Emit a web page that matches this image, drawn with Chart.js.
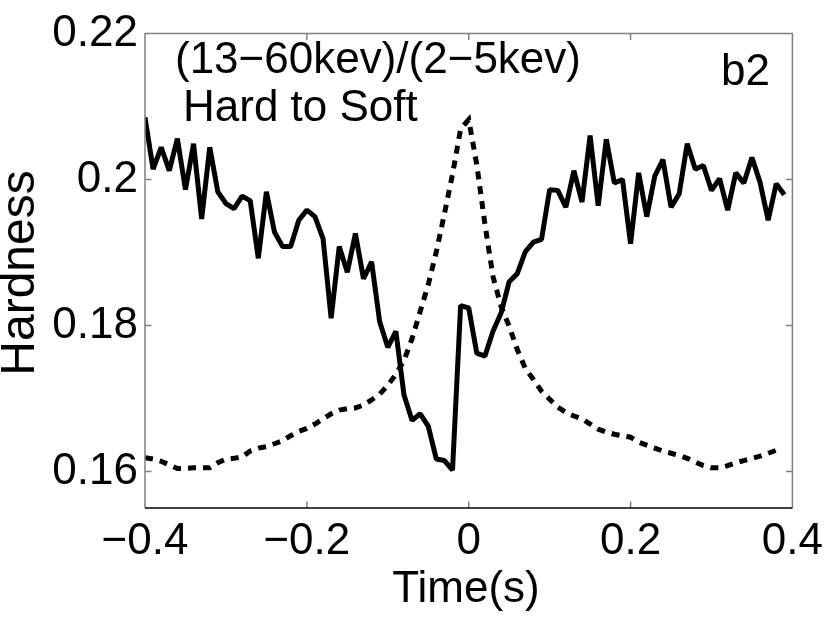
<!DOCTYPE html>
<html>
<head>
<meta charset="utf-8">
<script src="https://cdn.jsdelivr.net/npm/chart.js@4.4.1/dist/chart.umd.min.js"></script>
<style>
  body { margin: 0; background: #fff; }
  canvas { display: block; }
</style>
</head>
<body>
<canvas id="hardness-chart" width="830" height="624"></canvas>
<script>
// time bins (s)
const times = [
  -0.40, -0.39, -0.38, -0.37, -0.36, -0.35, -0.34, -0.33, -0.32, -0.31,
  -0.30, -0.29, -0.28, -0.27, -0.26, -0.25, -0.24, -0.23, -0.22, -0.21,
  -0.20, -0.19, -0.18, -0.17, -0.16, -0.15, -0.14, -0.13, -0.12, -0.11,
  -0.10, -0.09, -0.08, -0.07, -0.06, -0.05, -0.04, -0.03, -0.02, -0.01,
  0.00, 0.01, 0.02, 0.03, 0.04, 0.05, 0.06, 0.07, 0.08, 0.09,
  0.10, 0.11, 0.12, 0.13, 0.14, 0.15, 0.16, 0.17, 0.18, 0.19,
  0.20, 0.21, 0.22, 0.23, 0.24, 0.25, 0.26, 0.27, 0.28, 0.29,
  0.30, 0.31, 0.32, 0.33, 0.34, 0.35, 0.36, 0.37, 0.38, 0.39
];

// hardness ratio (solid)
const hardness = [
  0.2085, 0.2014, 0.2044, 0.2012, 0.2056, 0.1986, 0.2049, 0.1946, 0.2044, 0.1983,
  0.1967, 0.1960, 0.1977, 0.1971, 0.1892, 0.1983, 0.1928, 0.1908, 0.1908, 0.1944,
  0.1958, 0.1949, 0.1919, 0.1810, 0.1908, 0.1873, 0.1926, 0.1864, 0.1887, 0.1805,
  0.1770, 0.1792, 0.1705, 0.1670, 0.1679, 0.1662, 0.1617, 0.1615, 0.1602, 0.1827,
  0.1824, 0.1762, 0.1758, 0.1792, 0.1817, 0.1860, 0.1871, 0.1901, 0.1914, 0.1918,
  0.1986, 0.1985, 0.1962, 0.2012, 0.1969, 0.2060, 0.1964, 0.2055, 0.1995, 0.2000,
  0.1912, 0.2009, 0.1949, 0.2005, 0.2027, 0.1962, 0.1980, 0.2049, 0.2014, 0.2019,
  0.1985, 0.2001, 0.1958, 0.2009, 0.1995, 0.2030, 0.1996, 0.1944, 0.1994, 0.1979
];

// light curve profile, scaled (dashed)
const profile = [
  0.1619, 0.1617, 0.1614, 0.1609, 0.1604, 0.1604, 0.1605, 0.1605, 0.1605, 0.1612,
  0.1617, 0.1618, 0.1620, 0.1628, 0.1632, 0.1634, 0.1638, 0.1642, 0.1649, 0.1655,
  0.1659, 0.1665, 0.1672, 0.1679, 0.1684, 0.1686, 0.1687, 0.1691, 0.1698, 0.1706,
  0.1718, 0.1733, 0.1752, 0.1782, 0.1819, 0.1856, 0.1901, 0.1953, 0.2007, 0.2069,
  0.2082, 0.2020, 0.1939, 0.1867, 0.1826, 0.1799, 0.1767, 0.1741, 0.1726, 0.1710,
  0.1699, 0.1688, 0.1681, 0.1676, 0.1672, 0.1665, 0.1658, 0.1654, 0.1651, 0.1649,
  0.1647, 0.1640, 0.1636, 0.1632, 0.1628, 0.1625, 0.1622, 0.1618, 0.1613, 0.1608,
  0.1605, 0.1605, 0.1608, 0.1612, 0.1615, 0.1618, 0.1621, 0.1625, 0.1629, null
];

const xTicks = [-0.4, -0.2, 0, 0.2, 0.4];
const xTickLabels = ['\u22120.4', '\u22120.2', '0', '0.2', '0.4'];
const yTicks = [0.16, 0.18, 0.2, 0.22];
const yTickLabels = ['0.16', '0.18', '0.2', '0.22'];

const FONT = '"Liberation Sans", Arial, Helvetica, sans-serif';

// box, inner tick marks and text drawn on top
const frameAndText = {
  id: 'frameAndText',
  afterDraw(chart) {
    const ctx = chart.ctx;
    const a = chart.chartArea;
    const xs = chart.scales.x;
    const ys = chart.scales.y;
    const tick = 6.5;

    ctx.save();
    ctx.lineWidth = 1.5;
    ctx.strokeStyle = '#808080';
    ctx.beginPath();
    ctx.moveTo(a.left, a.bottom);
    ctx.lineTo(a.left, a.top);
    ctx.lineTo(a.right, a.top);
    ctx.lineTo(a.right, a.bottom);
    xTicks.forEach(v => {
      const px = xs.getPixelForValue(v);
      ctx.moveTo(px, a.bottom); ctx.lineTo(px, a.bottom - tick);
      ctx.moveTo(px, a.top); ctx.lineTo(px, a.top + tick);
    });
    yTicks.forEach(v => {
      const py = ys.getPixelForValue(v);
      ctx.moveTo(a.left, py); ctx.lineTo(a.left + tick, py);
      ctx.moveTo(a.right, py); ctx.lineTo(a.right - tick, py);
    });
    ctx.stroke();
    ctx.strokeStyle = '#000';
    ctx.beginPath();
    ctx.moveTo(a.left, a.bottom);
    ctx.lineTo(a.right, a.bottom);
    ctx.stroke();

    ctx.fillStyle = '#000';
    ctx.textBaseline = 'alphabetic';
    ctx.font = '44px ' + FONT;
    ctx.textAlign = 'left';
    ctx.fillText('(13\u221260kev)/(2\u22125kev)', 175, 73);
    ctx.fillText('Hard to Soft', 183, 121);
    ctx.fillText('b2', 721, 85);

    ctx.textAlign = 'center';
    ctx.fillText('Time(s)', 466, 602);

    ctx.font = '48px ' + FONT;
    ctx.translate(34, 273);
    ctx.rotate(-Math.PI / 2);
    ctx.fillText('Hardness', 0, 0);
    ctx.restore();
  }
};

new Chart(document.getElementById('hardness-chart'), {
  type: 'line',
  data: {
    datasets: [
      {
        label: 'Hardness',
        data: times.map((t, i) => ({ x: t, y: hardness[i] })),
        borderColor: '#000',
        borderWidth: 5,
        borderJoinStyle: 'bevel',
        pointRadius: 0,
        tension: 0,
        fill: false
      },
      {
        label: 'Profile',
        data: times.map((t, i) => ({ x: t, y: profile[i] })),
        borderColor: '#000',
        borderWidth: 5,
        borderDash: [8, 7],
        pointRadius: 0,
        tension: 0,
        spanGaps: false,
        fill: false
      }
    ]
  },
  options: {
    responsive: false,
    animation: false,
    devicePixelRatio: 1,
    layout: { padding: { top: 32, right: 37, left: 0, bottom: 0 } },
    plugins: {
      legend: { display: false },
      tooltip: { enabled: false }
    },
    scales: {
      x: {
        type: 'linear',
        min: -0.4,
        max: 0.4,
        afterBuildTicks: scale => { scale.ticks = xTicks.map(v => ({ value: v })); },
        afterFit: scale => { scale.height = 116; },
        border: { display: false },
        grid: { display: false, drawTicks: false },
        ticks: {
          padding: 7,
          maxRotation: 0,
          autoSkip: false,
          color: '#000',
          font: { size: 44, family: FONT },
          callback: (v, i) => xTickLabels[i]
        }
      },
      y: {
        min: 0.155,
        max: 0.22,
        afterBuildTicks: scale => { scale.ticks = yTicks.map(v => ({ value: v })); },
        afterFit: scale => { scale.width = 145; },
        border: { display: false },
        grid: { display: false, drawTicks: false },
        ticks: {
          padding: 7,
          autoSkip: false,
          color: '#000',
          font: { size: 44, family: FONT },
          callback: (v, i) => yTickLabels[i]
        }
      }
    }
  },
  plugins: [frameAndText]
});
</script>
</body>
</html>
